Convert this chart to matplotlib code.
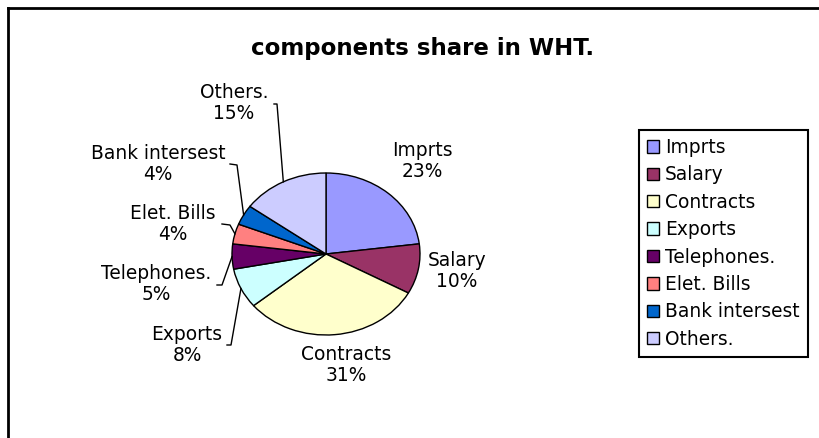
import numpy as np
import matplotlib
matplotlib.use("Agg")
import matplotlib.pyplot as plt
from matplotlib.lines import Line2D

plt.rcParams["font.family"] = ["DejaVu Sans"]

# data
components = ["Imprts", "Salary", "Contracts", "Exports", "Telephones.",
              "Elet. Bills", "Bank intersest", "Others."]
shares = [23, 10, 31, 8, 5, 4, 4, 15]
colors = ["#9999FF", "#993366", "#FFFFCC", "#CCFFFF", "#660066",
          "#FF8080", "#0066CC", "#CCCCFF"]
title = "components share in WHT."

W, H = 819, 438
fig = plt.figure(figsize=(W / 100, H / 100), dpi=100)

# pie ellipse box in pixels
cx, cy, rx, ry = 326, 254, 94, 81
ax = fig.add_axes([(cx - rx) / W, 1 - (cy + ry) / H, 2 * rx / W, 2 * ry / H])
wedges, _ = ax.pie(shares, colors=colors, startangle=90, counterclock=False,
                   wedgeprops=dict(edgecolor="black", linewidth=1))
ax.set_aspect("auto")
ax.set_xlim(-1, 1)
ax.set_ylim(-1, 1)


def px(x, y):
    # pixel position -> pie data coords
    return (x - cx) / rx, (cy - y) / ry


# label centres (pixels) and leader line starts
label_pos = {
    "Imprts": (422, 161),
    "Salary": (457, 271),
    "Contracts": (346, 365),
    "Exports": (187, 345),
    "Telephones.": (156, 284),
    "Elet. Bills": (173, 224),
    "Bank intersest": (158, 164),
    "Others.": (234, 103),
}
leaders = {
    "Exports": [(227, 345), (231, 345)],
    "Telephones.": [(217, 285), (222, 285)],
    "Elet. Bills": [(222, 224), (230, 225)],
    "Bank intersest": [(230, 164), (237, 165)],
    "Others.": [(274, 104), (277, 104)],
}

for w, name, val in zip(wedges, components, shares):
    lx, ly = px(*label_pos[name])
    ax.text(lx, ly, f"{name}\n{val}%", ha="center", va="center",
            fontsize=13.4, linespacing=1.15, clip_on=False)
    if name in leaders:
        t = np.deg2rad((w.theta1 + w.theta2) / 2)
        pts = [px(*p) for p in leaders[name]] + [(np.cos(t), np.sin(t))]
        xs, ys = zip(*pts)
        ax.plot(xs, ys, color="black", lw=1, clip_on=False)

fig.text(423 / W, 1 - 55 / H, title, ha="center", va="baseline",
         fontsize=16.5, fontweight="bold")

leg = fig.legend(wedges, components, loc="upper left",
                 bbox_to_anchor=(639 / W, 1 - 130 / H), borderaxespad=0,
                 fontsize=13.4, fancybox=False, framealpha=1,
                 edgecolor="black", handlelength=0.65, handleheight=0.65,
                 handletextpad=0.32, labelspacing=0.45, borderpad=0.43)
leg.get_frame().set_linewidth(1.5)

# chart area border (left and top edges visible)
fig.add_artist(Line2D([8 / W, 8 / W], [0, 1 - 8 / H], transform=fig.transFigure,
                      color="black", lw=2))
fig.add_artist(Line2D([8 / W, 1], [1 - 8 / H, 1 - 8 / H], transform=fig.transFigure,
                      color="black", lw=2))

fig.savefig("out.png", dpi=100)
